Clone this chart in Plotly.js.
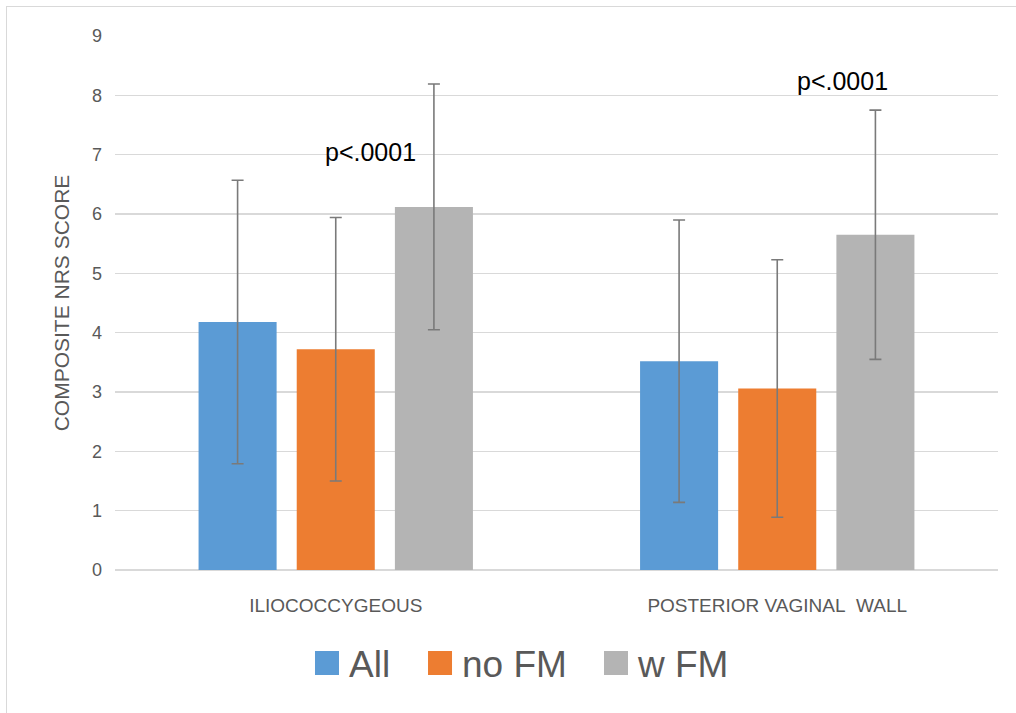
<!DOCTYPE html>
<html>
<head>
<meta charset="utf-8">
<script src="https://cdn.plot.ly/plotly-3.0.1.min.js"></script>
<style>
  html, body { margin: 0; padding: 0; background: #fff; }
  #wrap { position: relative; width: 1016px; height: 713px; }
  #border { position: absolute; left: 6px; top: 6px; width: 1016px; height: 713px;
            border-left: 1.5px solid #d9d9d9; border-top: 1.5px solid #d9d9d9; pointer-events: none; }
  #chart { position: absolute; left: 0; top: 0; width: 1016px; height: 713px; }
</style>
</head>
<body>
<div id="wrap">
  <div id="chart"></div>
  <div id="border"></div>
</div>
<script>
const categories = ["ILIOCOCCYGEOUS", "POSTERIOR VAGINAL\u00a0\u00a0WALL"];
const seriesNames = ["All", "no FM", "w FM"];
const allMeans = [4.18, 3.52];
const allErr = [2.39, 2.38];
const noFmMeans = [3.72, 3.06];
const noFmErr = [2.22, 2.17];
const wFmMeans = [6.12, 5.65];
const wFmErr = [2.07, 2.10];
const pLabels = ["p<.0001", "p<.0001"];
const pLabelY = [7.04, 8.25];
const colors = ["#5B9BD5", "#ED7D31", "#B4B4B4"];

const means = [allMeans, noFmMeans, wFmMeans];
const errs = [allErr, noFmErr, wFmErr];
const legendIds = ["legend", "legend2", "legend3"];
const legendX = [0.2197, 0.3477, 0.5470];

const traces = seriesNames.map((name, i) => ({
  type: "bar",
  name: name,
  legend: legendIds[i],
  x: categories,
  y: means[i],
  marker: { color: colors[i], line: { width: 0 } },
  error_y: { type: "data", array: errs[i], visible: true, color: "#7a7a7a", thickness: 1.6, width: 6 },
  hoverinfo: "none"
}));

const shifts = [35, 65];
const annotations = pLabels.map((t, i) => ({
  x: categories[i], y: pLabelY[i], xref: "x", yref: "y",
  text: t, showarrow: false, xshift: shifts[i],
  font: { family: "Liberation Sans, Arial, sans-serif", size: 25, color: "#000" }
}));

const layout = {
  width: 1016, height: 713,
  margin: { l: 115, r: 18, t: 36, b: 143 },
  paper_bgcolor: "rgba(0,0,0,0)",
  plot_bgcolor: "#fff",
  barmode: "group",
  bargap: 0.333,
  bargroupgap: 0.205,
  showlegend: true,
  xaxis: {
    type: "category",
    tickfont: { family: "Liberation Sans, Arial, sans-serif", size: 19, color: "#595959" },
    ticks: "", showline: false, showgrid: false, zeroline: false,
    ticklabelstandoff: 22,
    fixedrange: true
  },
  yaxis: {
    range: [0, 9], dtick: 1, tick0: 0,
    showgrid: true, gridcolor: "#d9d9d9", gridwidth: 1.3,
    zeroline: true, zerolinecolor: "#d9d9d9", zerolinewidth: 1.3,
    showline: false, ticks: "",
    ticklabelstandoff: 12,
    tickfont: { family: "Liberation Sans, Arial, sans-serif", size: 18, color: "#595959" },
    title: { text: "COMPOSITE NRS SCORE", standoff: 16,
             font: { family: "Liberation Sans, Arial, sans-serif", size: 21, color: "#595959" } },
    fixedrange: true
  },
  annotations: annotations
};
legendIds.forEach((id, i) => {
  layout[id] = {
    orientation: "h", x: legendX[i], xanchor: "left", y: -0.175, yanchor: "middle",
    bgcolor: "rgba(0,0,0,0)",
    font: { family: "Liberation Sans, Arial, sans-serif", size: 37, color: "#595959" },
    itemclick: false, itemdoubleclick: false
  };
});

Plotly.newPlot("chart", traces, layout, { displayModeBar: false, staticPlot: true }).then(() => {
  document.querySelectorAll("#chart .legendpoints path").forEach(p => {
    const t = p.getAttribute("transform") || "";
    p.setAttribute("transform", t + " translate(-2,0) scale(2)");
  });
});
</script>
</body>
</html>
